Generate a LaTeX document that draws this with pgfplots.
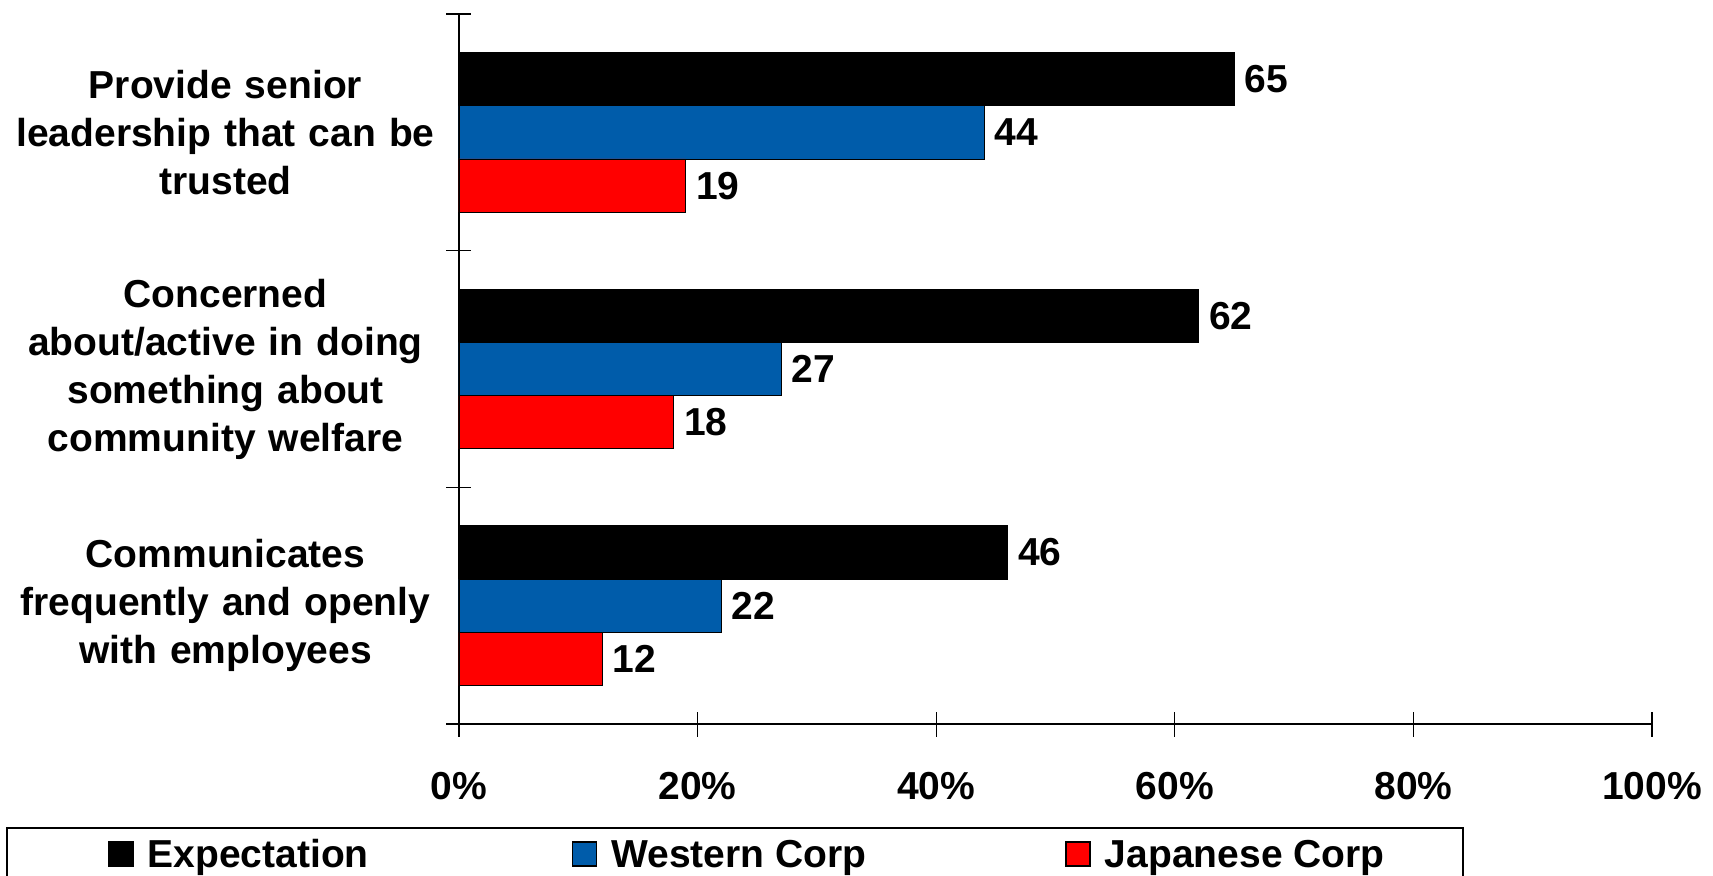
\documentclass[border=0pt]{standalone}
\usepackage{pgfplots}
\pgfplotsset{compat=1.18}
\usepackage{fontspec}
\setmainfont{Liberation Sans}
\definecolor{wblue}{RGB}{0,92,170}
\definecolor{jred}{RGB}{255,0,0}
\newcommand\lf{\bfseries\fontsize{19.5}{24}\selectfont}
\pgfplotsset{
  sq legend/.style={legend image code/.code={\draw[##1, line width=0.8pt] (0pt,-5.5pt) rectangle (12pt,6.5pt);}},
  sq legend pad/.style={legend image code/.code={\path (-16.7pt,0pt); \draw[##1, line width=0.8pt] (0pt,-5.5pt) rectangle (12pt,6.5pt);}},
}
\begin{document}
\begin{tikzpicture}
\path[use as bounding box] (-229.5pt,-76pt) rectangle (627pt,362pt);
\begin{axis}[
  scale only axis, width=596.5pt, height=355pt,
  xbar, xmin=0, xmax=100, ymin=-0.5, ymax=2.5, y dir=reverse,
  axis x line*=bottom, axis y line*=left,
  axis line style={line width=1pt, black},
  tick style={line width=0.6pt, black},
  tick align=center, major tick length=12.5pt, minor tick length=12.5pt,
  xtick={0,20,40,60,80,100},
  /pgf/number format/assume math mode=true,
  xticklabel={\pgfmathprintnumber{\tick}\%},
  xticklabel style={font=\lf, anchor=base, yshift=-31.5pt},
  ytick={0,1,2},
  yticklabels={{Provide senior\\leadership that can be\\trusted},
               {Concerned\\about/active in doing\\something about\\community welfare},
               {Communicates\\frequently and openly\\with employees}},
  yticklabel style={font=\lf, align=center, text width=215pt, anchor=center, xshift=-110.5pt},
  major y tick style={draw=none},
  minor ytick={-0.5,0.5,1.5,2.5},
  bar width=0.225,
  point meta=x,
  nodes near coords={\pgfmathprintnumber{\pgfplotspointmeta}},
  every node near coord/.append style={font=\lf, anchor=west, inner xsep=5pt},
  legend columns=3,
  legend style={at={(-0.3801,-0.1451)}, anchor=north west, draw=black, line width=1pt,
    font=\lf, inner xsep=34pt, inner ysep=3pt,
    nodes={inner sep=0pt, text height=16.7pt, text depth=4pt},
    /tikz/every odd column/.style={column sep=7pt},
    /tikz/every even column/.style={column sep=0pt}},
]
\addplot[fill=black, draw=black, bar shift=-0.225, sq legend pad]
  coordinates {(65,0) (62,1) (46,2)};
\addlegendentry{\makebox[212pt][l]{Expectation}}
\addplot[fill=wblue, draw=black, bar shift=0, sq legend]
  coordinates {(44,0) (27,1) (22,2)};
\addlegendentry{\makebox[227pt][l]{Western Corp}}
\addplot[fill=jred, draw=black, bar shift=0.225, sq legend]
  coordinates {(19,0) (18,1) (12,2)};
\addlegendentry{\makebox[145pt][l]{Japanese Corp}}
\end{axis}
\end{tikzpicture}
\end{document}
